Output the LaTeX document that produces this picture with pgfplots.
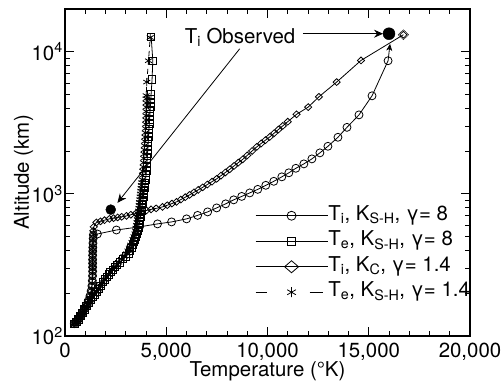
\documentclass[border=0pt]{standalone}
\usepackage{fontspec}
\setmainfont{TeX Gyre Heros}
\usepackage{pgfplots}
\pgfplotsset{compat=1.18}
\usetikzlibrary{arrows.meta}
\newcommand{\fs}{\fontsize{20.5}{24}\selectfont}
\begin{document}
\begin{tikzpicture}
\begin{axis}[
  scale only axis, width=405bp, height=327bp,
  xmin=0, xmax=20000, ymin=100, ymax=20000, ymode=log,
  clip=false,
  xtick={0,5000,10000,15000,20000},
  xticklabels={0,{5,000},{10,000},{15,000},{20,000}},
  minor x tick num=4,
  ytick={100,1000,10000},
  yticklabels={10\textsuperscript{2},10\textsuperscript{3},10\textsuperscript{4}},
  minor ytick={200,300,400,500,600,700,800,900,2000,3000,4000,5000,6000,7000,8000,9000},
  tick align=inside, major tick length=9bp, minor tick length=5bp,
  every tick/.style={black, line width=0.9bp},
  axis line style={line width=1.3bp},
  tick label style={font=\fs},
  xticklabel style={anchor=base, yshift=-22bp},
  yticklabel style={inner sep=1bp, xshift=-1bp},
  label style={font=\fs},
  xlabel={Temperature (°K)},
  ylabel={Altitude (km)},
  xlabel style={at={(axis description cs:0.5,-0.125)}, anchor=base, inner sep=0pt},
  ylabel style={at={(axis description cs:-0.089,0.5)}, anchor=base, inner sep=0pt},
  legend style={at={(0.469,0.402)}, anchor=north west, draw=none, fill=none,
    font=\fs, inner sep=0pt, row sep=3.5bp,
    nodes={inner sep=0.5bp, text height=15bp, text depth=6bp}},
  legend cell align=left,
  legend image code/.code={\draw[mark repeat=2,mark phase=2,#1] plot coordinates {(0bp,0bp) (36bp,0bp) (72bp,0bp)};},
]
\path (rel axis cs:0,0) coordinate (ll);
\path (rel axis cs:1,1) coordinate (ur);

% T_i, K_S-H, gamma = 8 (circles)
\addplot[black, line width=0.8bp, mark=o, mark size=4bp, forget plot] coordinates {
(460,122) (560,126) (660,131) (760,138) (860,146) (960,155) (1060,165) (1150,177)
(1230,191) (1290,207) (1330,225) (1350,245) (1360,265) (1365,285) (1365,305) (1365,325)
(1365,345) (1365,370) (1370,395) (1375,420) (1380,450) (1390,485) (1400,515)
(1599,522) (2539,557) (3678,586) (4569,615) (5262,635) (6004,667) (6549,706) (7044,747)
(7489,797) (7935,851) (8331,908) (8727,960) (9123,1016) (9519,1076) (9915,1149)
(10311,1226) (10707,1318) (11054,1407) (11400,1514) (11796,1626) (12192,1763)
(12588,1944) (12984,2162) (13479,2502) (13924,2939) (14518,3597) (15162,4898) (15954,8650)
};

% T_i, K_C, gamma = 1.4 (diamonds)
\addplot[black, line width=0.8bp, mark=diamond, mark size=3.4bp, mark options={xscale=1.4}, forget plot] coordinates {
(460,122) (560,126) (660,131) (760,138) (860,146) (960,155) (1060,165) (1150,177)
(1230,191) (1290,207) (1330,225) (1350,245) (1360,265) (1365,285) (1365,305) (1365,325)
(1365,345) (1365,370) (1370,395) (1375,420) (1380,450) (1390,485) (1400,515)
(1400,550) (1420,586) (1549,630) (1750,641) (1950,653) (2193,667) (2400,675) (2600,683)
(2800,690) (3034,700) (3250,713) (3500,729) (3750,746) (4024,765) (4250,778) (4500,791)
(4816,810) (5050,832) (5280,855) (5509,879) (5720,912) (5940,948) (6153,984) (6370,1026)
(6580,1067) (6796,1111) (7030,1164) (7260,1219) (7489,1276) (7700,1343) (7920,1415)
(8133,1489) (8350,1574) (8560,1660) (8776,1750) (9000,1866) (9240,2004) (9470,2142)
(9690,2265) (9900,2388) (10113,2518) (10330,2675) (10540,2838) (10757,3011) (11000,3221)
(11435,3630) (12009,4080) (12539,4820) (13415,6120) (14617,8690) (16711,13180)
};
\addplot[black, only marks, mark=diamond, mark size=5bp, mark options={xscale=1.4}, forget plot] coordinates {(16711,13180)};

% T_e, K_S-H, gamma = 8 (squares)
\addplot[black, line width=0.8bp, mark=square, mark size=3.6bp, forget plot] coordinates {
(460,122) (560,126) (660,131) (760,138) (860,146) (960,154) (1060,162) (1160,170)
(1260,179) (1360,188) (1460,196) (1549,204) (1650,214) (1750,226) (1861,239) (1960,250)
(2050,260) (2150,271) (2242,282) (2350,293) (2460,305) (2580,318) (2720,330)
(2870,347) (3010,363) (3140,380) (3210,398) (3280,417) (3350,437) (3410,457) (3460,479)
(3510,501) (3560,525) (3600,550) (3625,575) (3650,603) (3675,631) (3700,661) (3725,692)
(3750,724) (3770,759) (3790,794) (3810,832) (3830,871) (3850,912) (3870,955) (3890,1000)
(3915,1047) (3931,1096) (3948,1148) (3965,1202) (3981,1259) (3999,1349) (4015,1445)
(4031,1549) (4046,1660) (4062,1778) (4074,1905) (4087,2042) (4099,2188) (4112,2344)
(4124,2512) (4137,2692) (4150,2884) (4163,3090) (4175,3311) (4188,3548) (4201,3802)
(4214,4074) (4226,4365) (4239,4677) (4251,5012) (4300,6400) (4336,8650) (4257,12700)
};

% T_e, K_S-H, gamma = 1.4 (asterisks, dashed)
\addplot[black, line width=0.8bp, dash pattern=on 5bp off 4bp, mark=asterisk, mark size=4bp, mark options={solid}, forget plot] coordinates {
(460,122) (560,126) (660,131) (760,138) (860,146) (960,154) (1060,162) (1160,170)
(1260,179) (1360,188) (1460,196) (1549,204) (1650,214) (1750,226) (1861,239) (1960,250)
(2050,260) (2150,271) (2242,282) (2350,293) (2460,305) (2580,318) (2650,330)
(2790,347) (2920,363) (3050,380) (3110,398) (3180,417) (3250,437) (3310,457) (3360,479)
(3410,501) (3460,525) (3490,550) (3510,575) (3535,603) (3560,631) (3580,661) (3605,692)
(3630,724) (3640,759) (3655,794) (3670,832) (3685,871) (3700,912) (3715,955) (3730,1000)
(3745,1047) (3760,1096) (3778,1148) (3795,1202) (3811,1259) (3829,1349) (3845,1445)
(3861,1549) (3876,1660) (3892,1778) (3904,1905) (3917,2042) (3929,2188) (3942,2344)
(3954,2512) (3967,2692) (3980,2884) (3993,3090) (4000,3311) (4005,3548) (4008,3802)
(4010,4074) (4010,4365) (4010,4677) (4010,4920) (4040,6120) (4124,8650) (4208,12600)
};

% T_i observed
\addplot[black, only marks, mark=*, mark size=6bp, forget plot] coordinates {(16000,13400)};
\addplot[black, only marks, mark=*, mark size=5bp, forget plot] coordinates {(2260,775)};

\node[anchor=base west, inner sep=0pt, font=\fs] at (axis cs:5905,11380) {T\textsubscript{i} Observed};
\draw[line width=0.8bp, -{Stealth[length=9bp,width=8bp,inset=3bp]}] (axis cs:11747,13400) -- (axis cs:15706,13400);
\draw[line width=0.8bp, -{Stealth[length=9bp,width=8bp,inset=3bp]}] (axis cs:8628,10500) -- (axis cs:2589,865);
\draw[line width=0.8bp, -{Stealth[length=7bp,width=6bp,inset=2bp]}] (axis cs:15954,8650) -- (axis cs:16052,11380);

\addlegendimage{black, line width=0.8bp, mark=o, mark size=4.5bp}
\addlegendentry{T\textsubscript{i}, K\textsubscript{S-H}, γ= 8}
\addlegendimage{black, line width=0.8bp, mark=square, mark size=4bp}
\addlegendentry{T\textsubscript{e}, K\textsubscript{S-H}, γ= 8}
\addlegendimage{black, line width=0.8bp, mark=diamond, mark size=6bp, mark options={xscale=1.55}}
\addlegendentry{T\textsubscript{i}, K\textsubscript{C}, γ= 1.4}
\addlegendimage{black, line width=0.8bp, dash pattern=on 11bp off 43bp on 13bp off 10bp, mark=asterisk, mark size=5bp, mark options={solid}}
\addlegendentry{T\textsubscript{e}, K\textsubscript{S-H}, γ= 1.4}
\end{axis}
\pgfresetboundingbox
\path ([shift={(-65bp,-52bp)}]ll) rectangle ([shift={(31bp,9bp)}]ur);
\end{tikzpicture}
\end{document}
